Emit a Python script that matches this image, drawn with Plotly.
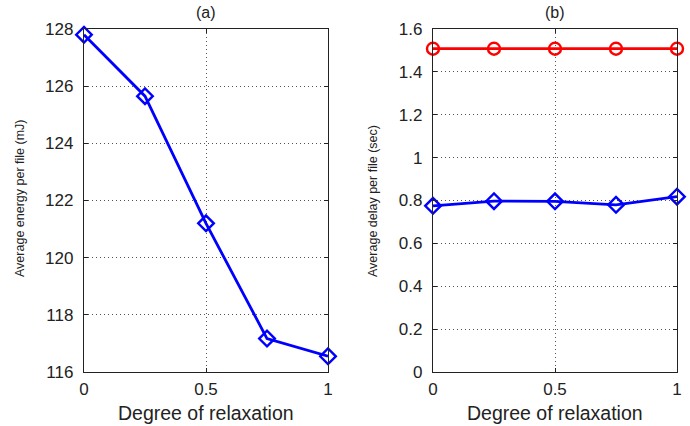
import plotly.graph_objects as go

relax = [0, 0.25, 0.5, 0.75, 1]
energy = [127.8, 125.65, 121.2, 117.17, 116.55]
delay_red = [1.508, 1.508, 1.508, 1.508, 1.508]
delay_blue = [0.775, 0.797, 0.796, 0.78, 0.818]

W, H = 690, 426
L1, R1 = 84, 328
L2, R2 = 433, 677
T, B = 29, 372

font = "Liberation Sans, Arial, sans-serif"
ink = "#222222"

fig = go.Figure()
fig.add_trace(go.Scatter(x=relax, y=energy, mode="lines+markers",
                         line=dict(color="#0000ff", width=2.8),
                         marker=dict(symbol="diamond-open", size=12, color="#0000ff", line=dict(width=2.4)),
                         cliponaxis=False, xaxis="x", yaxis="y"))
fig.add_trace(go.Scatter(x=relax, y=delay_red, mode="lines+markers",
                         line=dict(color="#ff0000", width=2.8),
                         marker=dict(symbol="circle-open", size=12, color="#ff0000", line=dict(width=2.4)),
                         cliponaxis=False, xaxis="x2", yaxis="y2"))
fig.add_trace(go.Scatter(x=relax, y=delay_blue, mode="lines+markers",
                         line=dict(color="#0000ff", width=2.8),
                         marker=dict(symbol="diamond-open", size=12, color="#0000ff", line=dict(width=2.4)),
                         cliponaxis=False, xaxis="x2", yaxis="y2"))

ydom = [1 - B / H, 1 - T / H]
ax_common = dict(showline=True, linecolor=ink, linewidth=1.3, mirror="ticks",
                 ticks="inside", ticklen=4, tickcolor=ink, automargin=False,
                 showgrid=True, gridcolor="#555555", griddash="1px,3px", gridwidth=1,
                 zeroline=False, tickfont=dict(family=font, size=17, color=ink))

fig.update_layout(
    width=W, height=H, margin=dict(l=0, r=0, t=0, b=0, autoexpand=False),
    paper_bgcolor="white", plot_bgcolor="white", showlegend=False,
    font=dict(family=font, color=ink),
    xaxis=dict(domain=[L1 / W, R1 / W], range=[0, 1], tickvals=[0, 0.5, 1], ticktext=["0", "0.5", "1"],
               anchor="y", ticklabelstandoff=1, **ax_common),
    yaxis=dict(domain=ydom, range=[116, 128], tickvals=[116, 118, 120, 122, 124, 126, 128],
               anchor="x", ticklabelstandoff=6, **ax_common),
    xaxis2=dict(domain=[L2 / W, R2 / W], range=[0, 1], tickvals=[0, 0.5, 1], ticktext=["0", "0.5", "1"],
                anchor="y2", ticklabelstandoff=1, **ax_common),
    yaxis2=dict(domain=ydom, range=[0, 1.6], tickvals=[0, 0.2, 0.4, 0.6, 0.8, 1, 1.2, 1.4, 1.6],
                ticktext=["0", "0.2", "0.4", "0.6", "0.8", "1", "1.2", "1.4", "1.6"],
                anchor="x2", ticklabelstandoff=6, **ax_common),
)

def ann(text, x, y, size, angle=0):
    fig.add_annotation(text=text, x=x / W, y=1 - y / H, xref="paper", yref="paper",
                       showarrow=False, textangle=angle, xanchor="center", yanchor="middle",
                       font=dict(family=font, size=size, color=ink))

ann("(a)", (L1 + R1) / 2, 13, 16)
ann("(b)", (L2 + R2) / 2, 13, 16)
ann("Degree of relaxation", (L1 + R1) / 2, 413, 19.5)
ann("Degree of relaxation", (L2 + R2) / 2, 413, 19.5)
ann("Average energy per file (mJ)", 20, 199, 12.5, -90)
ann("Average delay per file (sec)", 373, 201, 12.5, -90)

fig.write_html("out.html")
